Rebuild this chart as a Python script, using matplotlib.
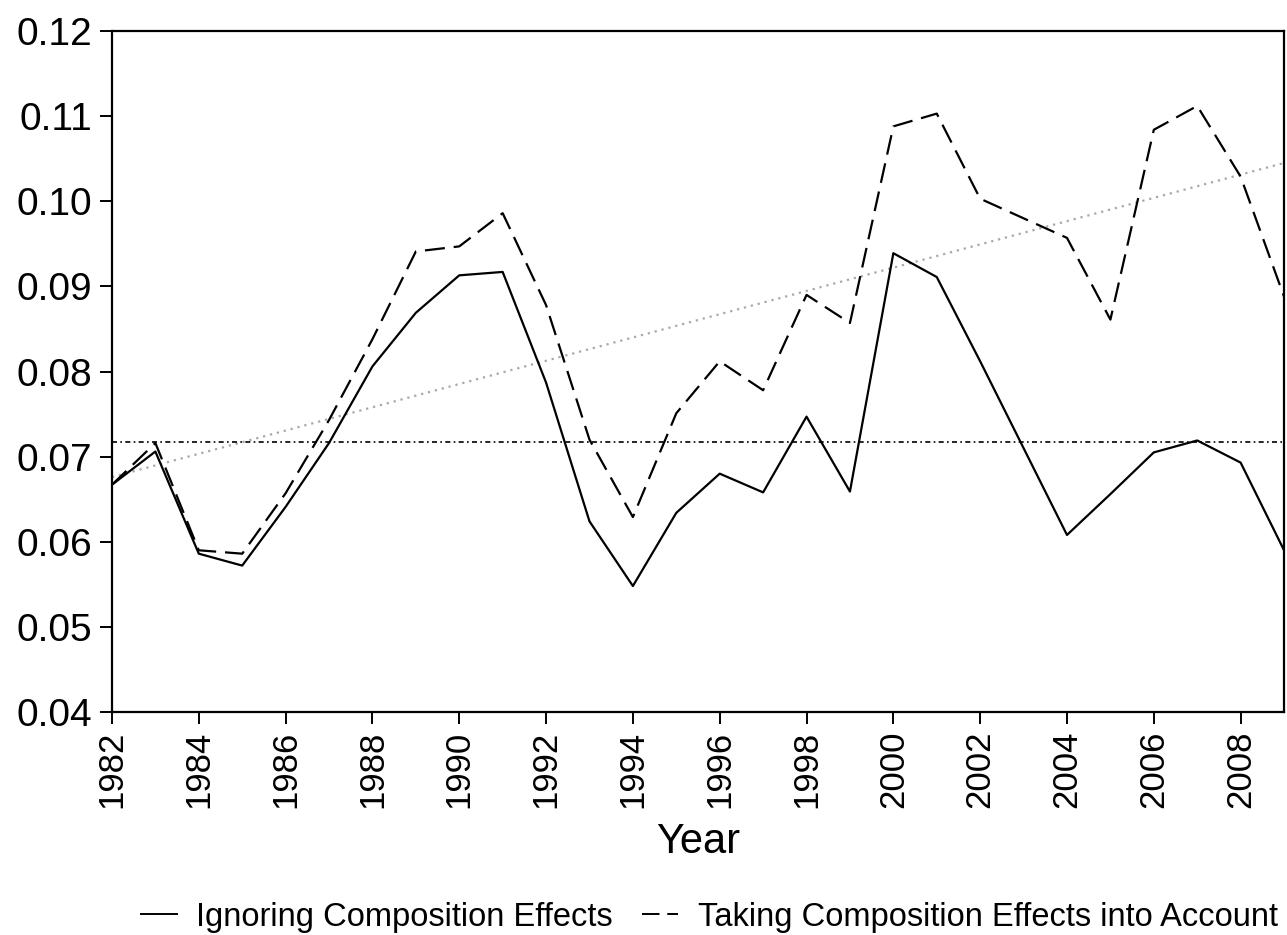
import matplotlib
matplotlib.use("Agg")
import matplotlib.pyplot as plt
from matplotlib.lines import Line2D
import numpy as np

plt.rcParams['font.family'] = ['Liberation Sans', 'DejaVu Sans']

years = list(range(1982, 2010))
ignoring = [0.0667, 0.0706, 0.0586, 0.0572, 0.0641, 0.0716, 0.0806, 0.0869,
            0.0913, 0.0917, 0.0787, 0.0624, 0.0548, 0.0634, 0.0680, 0.0658,
            0.0747, 0.0659, 0.0939, 0.0911, 0.0812, 0.0710, 0.0608, 0.0656,
            0.0705, 0.0719, 0.0693, 0.0590]
taking = [0.0667, 0.0716, 0.0590, 0.0586, 0.0657, 0.0743, 0.0838, 0.0941,
          0.0947, 0.0986, 0.0878, 0.0720, 0.0629, 0.0751, 0.0812, 0.0778,
          0.0890, 0.0857, 0.1088, 0.1103, 0.1003, 0.0980, 0.0957, 0.0861,
          0.1084, 0.1112, 0.1029, 0.0888]
mean_level = 0.0717
trend_years = [1982, 2009]
trend_values = [0.0676, 0.1045]
xtick_years = list(range(1982, 2010, 2))
yticks = [0.04, 0.05, 0.06, 0.07, 0.08, 0.09, 0.10, 0.11, 0.12]

fig = plt.figure(figsize=(12.87, 9.35), dpi=100)
ax = fig.add_axes([0.0870, 0.2385, 0.9107, 0.7283])

ax.plot(trend_years, trend_values, color='#a8a8a8', lw=1.6,
        linestyle=(0, (1, 2.2)), zorder=1)
ax.axhline(mean_level, color='black', lw=1.2, linestyle=(0, (3, 2, 1, 2)), zorder=1)
ax.plot(years, ignoring, color='black', lw=1.6, linestyle='-', zorder=3)
ax.plot(years, taking, color='black', lw=1.6, linestyle=(0, (9, 4)), zorder=3)

ax.set_xlim(1982, 2009)
ax.set_ylim(0.04, 0.12)
ax.set_xticks(xtick_years)
ax.set_xticklabels([str(y) for y in xtick_years], rotation=90, fontsize=25)
ax.set_yticks(yticks)
ax.set_yticklabels([f"{v:.2f}" for v in yticks], fontsize=28)
ax.tick_params(axis='both', direction='out', length=8.5, width=1.4, color='black')
ax.tick_params(axis='x', pad=5)
ax.tick_params(axis='y', pad=6)
for s in ax.spines.values():
    s.set_linewidth(1.6)
    s.set_color('black')
ax.set_xlabel('Year', fontsize=30, labelpad=10)

handles = [Line2D([], [], color='black', lw=1.4, linestyle='-'),
           Line2D([], [], color='black', lw=1.4, linestyle=(0, (9, 4)))]
labels = ['Ignoring Composition Effects', 'Taking Composition Effects into Account']
fig.legend(handles, labels, loc='center', bbox_to_anchor=(0.551, 0.019),
           ncol=2, frameon=False, fontsize=23.5, handlelength=1.1,
           handletextpad=0.6, columnspacing=0.9)

fig.savefig('out.png', dpi=100)
